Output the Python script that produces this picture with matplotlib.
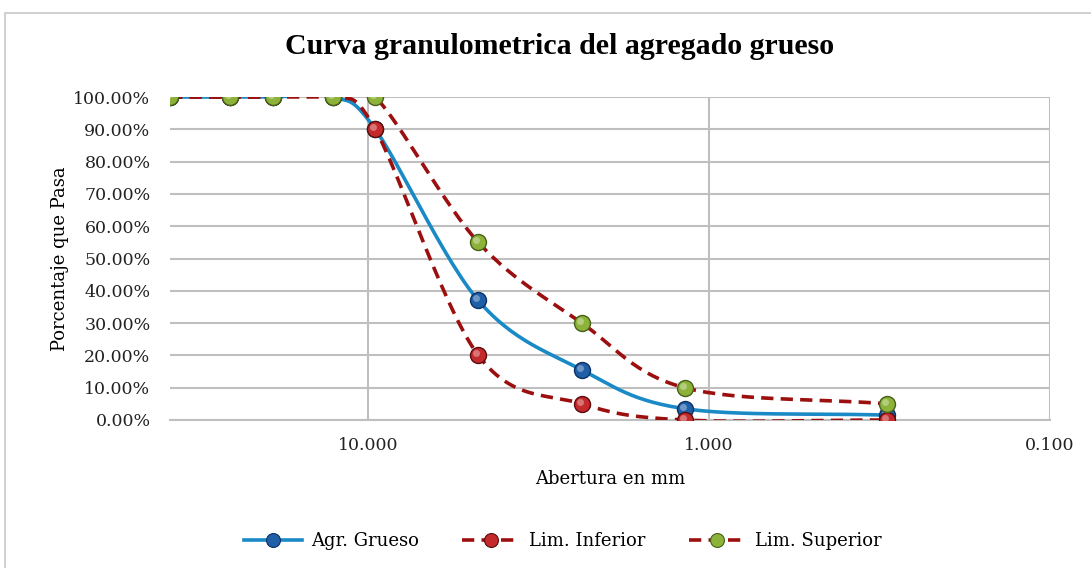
import numpy as np
import matplotlib
matplotlib.use("Agg")
import matplotlib.pyplot as plt
import matplotlib.transforms as mtransforms
from matplotlib.lines import Line2D
from matplotlib.patches import Rectangle
from matplotlib.ticker import FixedLocator, FuncFormatter

# tamices (mm) y porcentajes que pasan
abertura = [38.1, 25.4, 19.05, 12.7, 9.525, 4.75, 2.36, 1.18, 0.3]
agr_grueso = [100, 100, 100, 100, 90, 37, 15.5, 3.5, 1.5]
lim_inferior = [100, 100, 100, 100, 90, 20, 5, 0, 0]
lim_superior = [100, 100, 100, 100, 100, 55, 30, 10, 5]
x_ticks = [10, 1, 0.1]
y_ticks = [0, 10, 20, 30, 40, 50, 60, 70, 80, 90, 100]


def suavizar(x, y, n=30):
    # curva suavizada tipo Excel (Bezier / Catmull-Rom) en espacio log-x
    lx = np.log10(np.asarray(x, float))
    yy = np.asarray(y, float)
    px = np.concatenate([[2 * lx[0] - lx[1]], lx, [2 * lx[-1] - lx[-2]]])
    py = np.concatenate([[2 * yy[0] - yy[1]], yy, [2 * yy[-1] - yy[-2]]])
    out_x, out_y = [], []
    t = np.linspace(0, 1, n)
    for i in range(1, len(px) - 2):
        p0, p1, p2, p3 = px[i - 1], px[i], px[i + 1], px[i + 2]
        q0, q1, q2, q3 = py[i - 1], py[i], py[i + 1], py[i + 2]
        b1x, b1y = p1 + (p2 - p0) / 6, q1 + (q2 - q0) / 6
        b2x, b2y = p2 - (p3 - p1) / 6, q2 - (q3 - q1) / 6
        bx = (1 - t) ** 3 * p1 + 3 * (1 - t) ** 2 * t * b1x + 3 * (1 - t) * t ** 2 * b2x + t ** 3 * p2
        by = (1 - t) ** 3 * q1 + 3 * (1 - t) ** 2 * t * b1y + 3 * (1 - t) * t ** 2 * b2y + t ** 3 * q2
        out_x.extend(bx)
        out_y.extend(by)
    return 10 ** np.array(out_x), np.array(out_y)


fig = plt.figure(figsize=(10.91, 5.68), dpi=100)
fig.patches.append(Rectangle((5 / 1091, -0.01), 1.0, 1 - 13 / 568 + 0.01, transform=fig.transFigure,
                             fill=False, edgecolor="#c8c8c8", linewidth=1.2))
ax = fig.add_axes([170 / 1091, 1 - 420 / 568, 880 / 1091, 323 / 568])

series = [
    (agr_grueso, "Agr. Grueso", "#1a8ac6", "-", "#1f5fa8", "#0d2f63", 4),
    (lim_inferior, "Lim. Inferior", "#9b0f0f", (0, (3.4, 2.0)), "#c42a2c", "#5a0c0c", 5),
    (lim_superior, "Lim. Superior", "#9b0f0f", (0, (3.4, 2.0)), "#8db23a", "#46601a", 6),
]
brillo = mtransforms.offset_copy(ax.transData, fig=fig, x=-2, y=2, units="dots")
handles = []
for vals, label, lc, ls, mc, me, z in series:
    sx, sy = suavizar(abertura, vals)
    ax.plot(sx, sy, color=lc, linestyle=ls, linewidth=2.6, zorder=z, solid_capstyle="round",
            dash_capstyle="butt")
    ax.plot(abertura, vals, linestyle="none", marker="o", markersize=11.5, markerfacecolor=mc,
            markeredgecolor=me, markeredgewidth=1.0, zorder=z + 3)
    ax.plot(abertura, vals, linestyle="none", marker="o", markersize=5, markerfacecolor="white",
            markeredgewidth=0, alpha=0.35, zorder=z + 4, transform=brillo)
    handles.append(Line2D([0], [0], color=lc, linestyle=ls, linewidth=2.6, marker="o",
                          markersize=10, markerfacecolor=mc, markeredgecolor=me,
                          markeredgewidth=0.8))

ax.set_xscale("log")
ax.set_xlim(38.1, 0.1)
ax.set_ylim(0, 100)
ax.xaxis.set_major_locator(FixedLocator(x_ticks))
ax.xaxis.set_minor_locator(FixedLocator([]))
ax.xaxis.set_major_formatter(FuncFormatter(lambda v, p: f"{v:.3f}"))
ax.set_yticks(y_ticks)
ax.yaxis.set_major_formatter(FuncFormatter(lambda v, p: f"{v:.2f}%"))
ax.grid(True, color="#bfbfbf", linewidth=1.5)
ax.set_axisbelow(True)
for s in ["top", "left", "right"]:
    ax.spines[s].set_visible(False)
ax.spines["bottom"].set_color("#bfbfbf")
ax.spines["bottom"].set_linewidth(1.5)
ax.tick_params(axis="y", length=0, pad=14)
ax.tick_params(axis="x", length=0, pad=12)
for lab in ax.get_xticklabels() + ax.get_yticklabels():
    lab.set_family("DejaVu Serif")
    lab.set_fontsize(12.5)
    lab.set_color("#222222")

ax.set_xlabel("Abertura en mm", family="DejaVu Serif", fontsize=13, labelpad=12)
ax.set_ylabel("Porcentaje que Pasa", family="DejaVu Serif", fontsize=13, labelpad=3)
fig.text(560 / 1091, 1 - 47 / 568, "Curva granulometrica del agregado grueso", ha="center",
         va="center", family="Liberation Serif", fontsize=21.5, fontweight="bold")
fig.legend(handles, [s[1] for s in series], loc="center", bbox_to_anchor=(563 / 1091, 1 - 541 / 568),
           ncol=3, frameon=False, prop={"family": "DejaVu Serif", "size": 13},
           handlelength=3.2, columnspacing=2.4, handletextpad=0.5)

fig.savefig("out.png", dpi=100)
